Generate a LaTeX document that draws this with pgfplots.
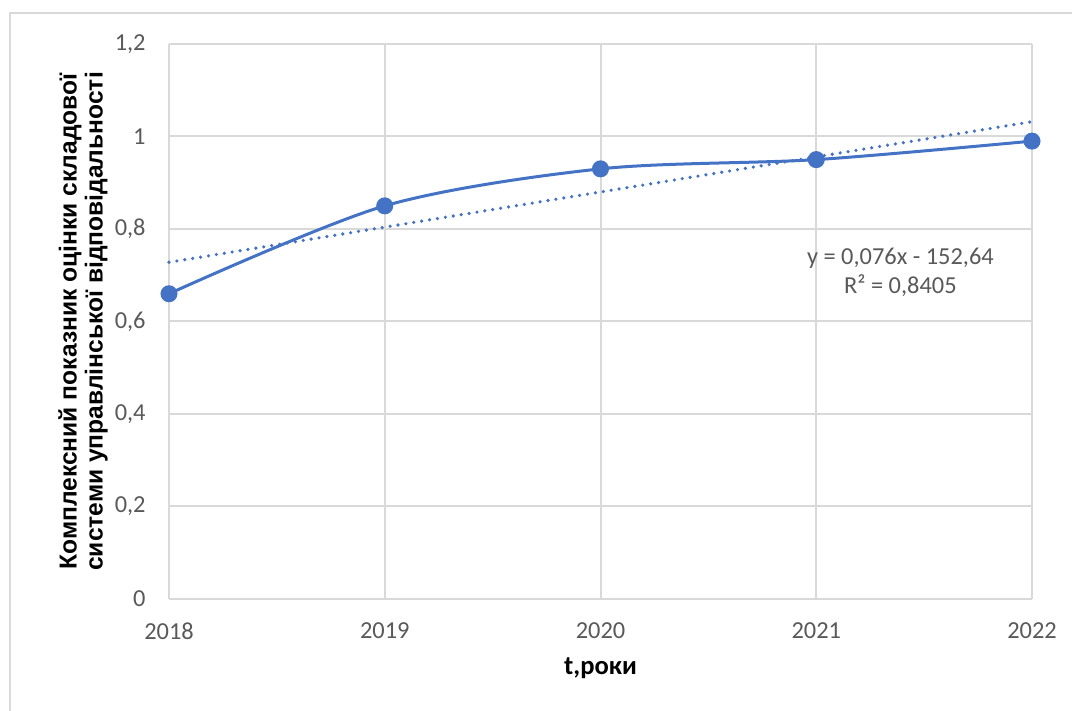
\documentclass[border=0pt]{standalone}
\usepackage{pgfplots}
\pgfplotsset{compat=1.18}
\usepackage{fontspec}
\setmainfont{Carlito}
\newfontfamily\arialfont{Liberation Sans}
\definecolor{exblue}{HTML}{4472C4}
\definecolor{exgrid}{HTML}{D9D9D9}
\definecolor{extext}{HTML}{595959}
\begin{document}
\begin{tikzpicture}
\useasboundingbox (0pt,0pt) rectangle (536pt,355.5pt);
\draw[exgrid, line width=1pt] (5pt,-5pt) -- (5pt,349pt) -- (545pt,349pt);
\begin{axis}[
  at={(84.5pt,56pt)}, anchor=south west,
  scale only axis, width=431.5pt, height=277.5pt,
  xmin=2018, xmax=2022, ymin=0, ymax=1.2,
  xtick={2018,2019,2020,2021,2022},
  xticklabels={2018,2019,2020,2021,2022},
  ytick={0,0.2,0.4,0.6,0.8,1,1.2},
  yticklabels={0,{0,2},{0,4},{0,6},{0,8},1,{1,2}},
  major tick length=0pt,
  grid=major,
  major grid style={exgrid, line width=1pt},
  axis line style={exgrid, line width=1pt},
  axis x line*=bottom, axis y line*=left,
  x axis line style={-}, y axis line style={-},
  ticklabel style={font=\fontsize{12.2}{14}\selectfont, text=extext, inner sep=0pt},
  yticklabel style={xshift=-11.5pt},
  xticklabel style={yshift=-11.5pt},
  xlabel={t,роки},
  xlabel style={font=\fontsize{13.3}{15}\selectfont\bfseries, at={(axis description cs:0.5,-0.124)}, anchor=center},
  ylabel={Комплексний показник оцінки складової\\системи управлінської відповідальності},
  ylabel style={font=\arialfont\fontsize{12.3}{13}\selectfont\bfseries, align=center, at={(axis description cs:-0.0997,0.5)}, anchor=center},
  clip=false,
]
\addplot[exblue, line width=1.5pt, smooth, mark=*, mark size=3.5pt, mark options={fill=exblue, draw=exblue}]
  coordinates {(2018,0.66) (2019,0.85) (2020,0.93) (2021,0.95) (2022,0.99)};
\addplot[exblue, line width=1.8pt, line cap=round, dash pattern=on 0pt off 4pt]
  coordinates {(2018,0.728) (2022,1.032)};
\node[font=\fontsize{12.2}{14.5}\selectfont, text=extext, align=center] at (axis cs:2021.39,0.707)
  {y = 0,076x - 152,64\\R² = 0,8405};
\end{axis}
\end{tikzpicture}
\end{document}
